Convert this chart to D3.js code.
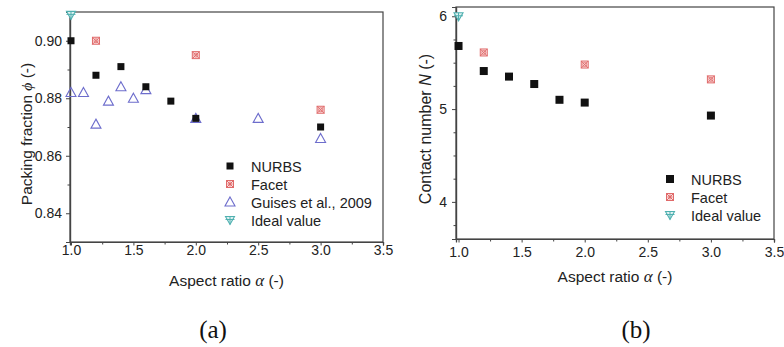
<!DOCTYPE html>
<html>
<head>
<meta charset="utf-8">
<script src="https://cdn.jsdelivr.net/npm/d3@7"></script>
<style>
  body { margin: 0; background: #fff; }
  svg { display: block; font-family: "Liberation Sans", Arial, sans-serif; }
  .tick text { font-size: 14px; fill: #222; }
</style>
</head>
<body>
<div id="chart"></div>
<script>
// aspect ratio tick labels (both panels)
const xTicks = [1.0, 1.5, 2.0, 2.5, 3.0, 3.5];
const xMinor = [1.25, 1.75, 2.25, 2.75, 3.25];

// (a) packing fraction
const nurbsAlphaA = [1.0, 1.2, 1.4, 1.6, 1.8, 2.0, 3.0];
const nurbsPhi = [0.900, 0.888, 0.891, 0.884, 0.879, 0.873, 0.870];
const facetAlphaA = [1.2, 2.0, 3.0];
const facetPhi = [0.900, 0.895, 0.876];
const guisesAlpha = [1.0, 1.1, 1.2, 1.3, 1.4, 1.5, 1.6, 2.0, 2.5, 3.0];
const guisesPhi = [0.882, 0.882, 0.871, 0.879, 0.884, 0.880, 0.883, 0.873, 0.873, 0.866];
const idealAlphaA = [1.0];
const idealPhi = [0.909];
const phiTicks = [0.84, 0.86, 0.88, 0.90];
const phiMinor = [0.83, 0.85, 0.87, 0.89];

// (b) contact number
const nurbsAlphaB = [1.0, 1.2, 1.4, 1.6, 1.8, 2.0, 3.0];
const nurbsN = [5.68, 5.41, 5.35, 5.27, 5.10, 5.07, 4.93];
const facetAlphaB = [1.2, 2.0, 3.0];
const facetN = [5.61, 5.48, 5.32];
const idealAlphaB = [1.0];
const idealN = [6.0];
const nTicks = [4, 5, 6];
const nMinor = [3.75, 4.25, 4.5, 4.75, 5.25, 5.5, 5.75, 6.25];

const W = 784, H = 347;
const RED = "#e06a6a", BLUE = "#6d6dcc", TEAL = "#4fb0b0";

const svg = d3.select("#chart").append("svg")
    .attr("width", W).attr("height", H);

const zip = (xs, ys) => xs.map((x, i) => [x, ys[i]]);

// marker painters
function square(g, size) {
    g.append("rect").attr("x", -size / 2).attr("y", -size / 2)
        .attr("width", size).attr("height", size).attr("fill", "#111");
}
function facet(g) {
    g.append("rect").attr("x", -3.5).attr("y", -3.5).attr("width", 7).attr("height", 7)
        .attr("fill", "#fbe3e3").attr("stroke", RED).attr("stroke-width", 1);
    g.append("path").attr("d", "M-3.5,-3.5L3.5,3.5M3.5,-3.5L-3.5,3.5")
        .attr("stroke", RED).attr("stroke-width", 1);
    g.append("circle").attr("r", 2).attr("fill", "none").attr("stroke", RED).attr("stroke-width", 0.8);
}
function triangle(g) {
    g.append("path").attr("d", "M0,-5L5,4L-5,4Z")
        .attr("fill", "none").attr("stroke", BLUE).attr("stroke-width", 1.1);
}
function ideal(g) {
    g.append("path").attr("d", "M-4.5,-3.5L4.5,-3.5L0,4.5Z")
        .attr("fill", "#dff1f1").attr("stroke", TEAL).attr("stroke-width", 1.1);
    g.append("path").attr("d", "M-4.5,-0.5L4.5,-0.5M0,-3.5L0,4.5")
        .attr("stroke", TEAL).attr("stroke-width", 1);
}

function drawPanel(p) {
    const x = d3.scaleLinear().domain(p.xDomain).range([p.left, p.right]);
    const y = d3.scaleLinear().domain(p.yDomain).range([p.bottom, p.top]);
    const g = svg.append("g");

    // frame
    g.append("rect").attr("x", p.left).attr("y", p.top)
        .attr("width", p.right - p.left).attr("height", p.bottom - p.top)
        .attr("fill", "none").attr("stroke", "#444").attr("stroke-width", 1.2);

    g.append("g").attr("transform", `translate(0,${p.bottom})`)
        .call(d3.axisBottom(x).tickValues(xTicks).tickFormat(d3.format(".1f"))
            .tickSize(3.5).tickPadding(p.xPad));
    g.append("g").attr("transform", `translate(0,${p.bottom})`)
        .call(d3.axisBottom(x).tickValues(xMinor).tickFormat("").tickSize(2.5));
    g.append("g").attr("transform", `translate(${p.left},0)`)
        .call(d3.axisLeft(y).tickValues(p.yTicks).tickFormat(p.yFormat)
            .tickSize(4).tickPadding(p.yPad));
    g.append("g").attr("transform", `translate(${p.left},0)`)
        .call(d3.axisLeft(y).tickValues(p.yMinor.filter(v => v > p.yDomain[0] && v < p.yDomain[1]))
            .tickFormat("").tickSize(2.5));
    g.selectAll(".domain").attr("stroke", "#444").attr("stroke-width", 1.2);
    g.selectAll(".tick line").attr("stroke", "#444");

    // axis titles
    const xt = g.append("text").attr("x", (p.left + p.right) / 2).attr("y", p.bottom + p.xTitleGap)
        .attr("text-anchor", "middle").attr("font-size", 15.5).attr("fill", "#222");
    xt.append("tspan").text("Aspect ratio ");
    xt.append("tspan").attr("font-family", "Liberation Serif").attr("font-style", "italic")
        .attr("font-size", 17).text("α");
    xt.append("tspan").text(" (-)");

    const yt = g.append("text")
        .attr("transform", `translate(${p.yTitleX},${p.yTitleY}) rotate(-90)`)
        .attr("text-anchor", "middle").attr("font-size", p.yTitleSize).attr("fill", "#222");
    yt.append("tspan").text(p.yTitle[0]);
    yt.append("tspan").attr("font-style", "italic").attr("font-family", p.yTitle[2])
        .text(p.yTitle[1]);
    yt.append("tspan").text(" (-)");

    // series
    p.series.forEach(s => {
        g.append("g").selectAll("g").data(s.points).join("g")
            .attr("transform", d => `translate(${x(d[0])},${y(d[1])})`)
            .each(function () { s.mark(d3.select(this)); });
    });

    // legend
    p.series.slice().sort((a, b) => a.order - b.order).forEach((s, i) => {
        const ly = p.legendY + i * 18;
        s.mark(g.append("g").attr("transform", `translate(${p.legendX},${ly})`));
        g.append("text").attr("x", p.legendX + 21).attr("y", ly + 5.5)
            .attr("font-size", 14.5).attr("fill", "#222").text(s.name);
    });

    // caption
    g.append("text").attr("x", p.captionX).attr("y", 338)
        .attr("text-anchor", "middle").attr("font-family", "Liberation Serif, serif")
        .attr("font-size", 25).attr("fill", "#111").text(p.caption);
}

drawPanel({
    left: 70, right: 383, top: 12, bottom: 242,
    xDomain: [0.992, 3.5], yDomain: [0.83, 0.91],
    yTicks: phiTicks, yMinor: phiMinor, yFormat: d3.format(".2f"),
    xPad: 0, yPad: 4, xTitleGap: 44,
    yTitle: ["Packing fraction ", "ϕ", "Liberation Serif"], yTitleX: 32, yTitleY: 134, yTitleSize: 15.5,
    legendX: 230, legendY: 166, captionX: 213, caption: "(a)",
    series: [
        {name: "Guises et al., 2009", order: 2, points: zip(guisesAlpha, guisesPhi), mark: triangle},
        {name: "NURBS", order: 0, points: zip(nurbsAlphaA, nurbsPhi), mark: g => square(g, 7)},
        {name: "Facet", order: 1, points: zip(facetAlphaA, facetPhi), mark: facet},
        {name: "Ideal value", order: 3, points: zip(idealAlphaA, idealPhi), mark: ideal}
    ]
});

drawPanel({
    left: 456, right: 774, top: 7, bottom: 239,
    xDomain: [0.98, 3.5], yDomain: [3.6, 6.1],
    yTicks: nTicks, yMinor: nMinor, yFormat: d3.format("d"),
    xPad: 5, yPad: 5, xTitleGap: 43,
    yTitle: ["Contact number ", "N", "Liberation Sans"], yTitleX: 431, yTitleY: 129, yTitleSize: 16,
    legendX: 670, legendY: 179, captionX: 636, caption: "(b)",
    series: [
        {name: "NURBS", order: 0, points: zip(nurbsAlphaB, nurbsN), mark: g => square(g, 8)},
        {name: "Facet", order: 1, points: zip(facetAlphaB, facetN), mark: facet},
        {name: "Ideal value", order: 2, points: zip(idealAlphaB, idealN), mark: ideal}
    ]
});
</script>
</body>
</html>
